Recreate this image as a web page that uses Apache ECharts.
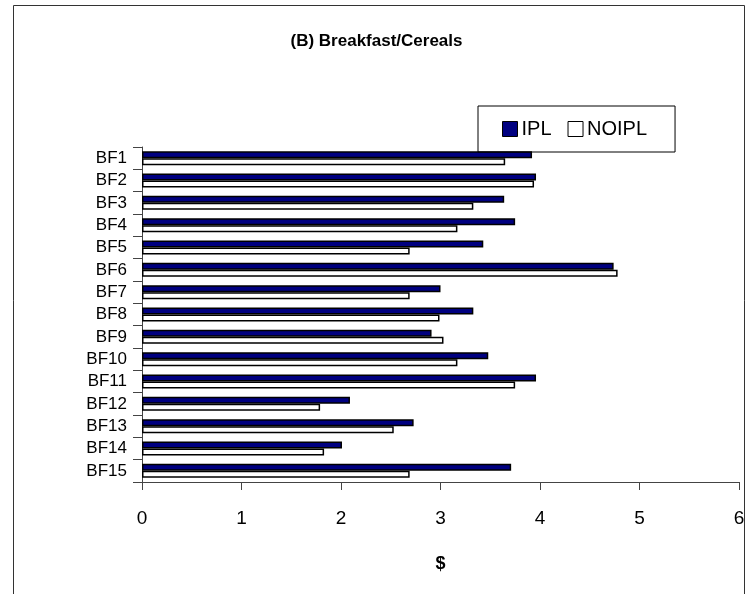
<!DOCTYPE html>
<html>
<head>
<meta charset="utf-8">
<script src="https://cdn.jsdelivr.net/npm/echarts@6/dist/echarts.min.js"></script>
<style>html,body{margin:0;padding:0;background:#fff}#c{width:753px;height:594px}</style>
</head>
<body>
<div id="c"></div>
<script>
const categories = ["BF1","BF2","BF3","BF4","BF5","BF6","BF7","BF8","BF9","BF10","BF11","BF12","BF13","BF14","BF15"];
const iplValues = [3.92,3.96,3.64,3.75,3.43,4.74,3.00,3.33,2.91,3.48,3.96,2.09,2.73,2.01,3.71];
const noiplValues = [3.65,3.94,3.33,3.17,2.69,4.78,2.69,2.99,3.03,3.17,3.75,1.79,2.53,1.83,2.69];
const xTicks = [0,1,2,3,4,5,6];

const chart = echarts.init(document.getElementById('c'), null, {renderer:'canvas'});
const font = '"Liberation Sans", Arial, sans-serif';
chart.setOption({
  animation:false,
  backgroundColor:'#fff',
  graphic:[{type:'rect',shape:{x:13.5,y:5.5,width:731,height:600},style:{fill:'none',stroke:'#333',lineWidth:1},silent:true}],
  title:{text:'(B) Breakfast/Cereals',left:'center',top:28,textStyle:{fontFamily:font,fontWeight:'bold',fontSize:17,color:'#000'}},
  legend:{
    left:478, top:106, orient:'horizontal', padding:[13,28,13,24],
    borderColor:'#000', borderWidth:1, itemGap:16, itemWidth:15, itemHeight:15,
    textStyle:{fontFamily:font,fontSize:20,color:'#000',padding:[0,0,0,-1]},
    data:[
      {name:'IPL',icon:'rect',itemStyle:{color:'#000080',borderColor:'#000',borderWidth:1}},
      {name:'NOIPL',icon:'rect',itemStyle:{color:'#fff',borderColor:'#000',borderWidth:1}}
    ]
  },
  grid:{left:142,right:14,top:147,height:335,containLabel:false},
  xAxis:{
    type:'value',min:0,max:6,interval:1,
    axisLine:{show:true,lineStyle:{color:'#444',width:1}},
    axisTick:{show:true,length:8,lineStyle:{color:'#444'}},
    splitLine:{show:false},
    axisLabel:{fontFamily:font,fontSize:19,color:'#000',margin:27,formatter:(v)=>xTicks.includes(v)?String(v):''},
    name:'$',nameLocation:'middle',nameGap:73,
    nameTextStyle:{fontFamily:font,fontWeight:'bold',fontSize:18,color:'#000'}
  },
  yAxis:{
    type:'category',data:categories,inverse:true,
    axisLine:{show:true,lineStyle:{color:'#444',width:1}},
    axisTick:{show:true,length:9,lineStyle:{color:'#444'}},
    axisLabel:{fontFamily:font,fontSize:17,color:'#000',margin:15,interval:0}
  },
  series:[
    {name:'IPL',type:'bar',data:iplValues,barWidth:7,barGap:'0%',
      itemStyle:{color:'#000080',borderColor:'#000',borderWidth:1.5}},
    {name:'NOIPL',type:'bar',data:noiplValues,barWidth:7,barGap:'0%',
      itemStyle:{color:'#fff',borderColor:'#000',borderWidth:1.5}}
  ]
});
</script>
</body>
</html>
